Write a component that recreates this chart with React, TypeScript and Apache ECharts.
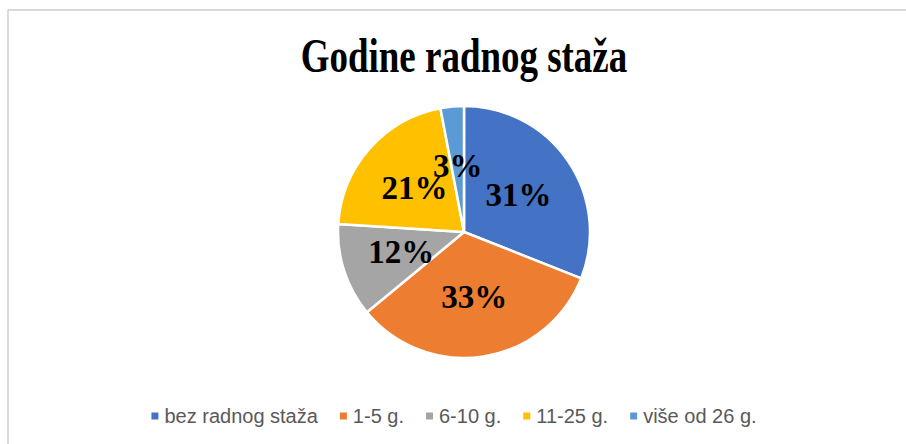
import React, { useEffect, useRef } from "react";
import * as echarts from "echarts";

const titleText = "Godine radnog staža";
const categories = ["bez radnog staža", "1-5 g.", "6-10 g.", "11-25 g.", "više od 26 g."];
const values = [31, 33, 12, 21, 3];
const colors = ["#4472C4", "#ED7D31", "#A5A5A5", "#FFC000", "#5B9BD5"];

export default function App() {
  const ref = useRef<HTMLDivElement>(null);
  useEffect(() => {
    if (!ref.current) return;
    const chart = echarts.init(ref.current, undefined, { renderer: "svg" });
    chart.setOption({
      animation: false,
      backgroundColor: "#ffffff",
      color: colors,
      graphic: [
        { type: "line", shape: { x1: 8, y1: 10, x2: 906, y2: 10 }, style: { stroke: "#d9d9d9", lineWidth: 2 } },
        { type: "line", shape: { x1: 8, y1: 10, x2: 8, y2: 444 }, style: { stroke: "#d9d9d9", lineWidth: 2 } },
        {
          type: "text",
          x: 464,
          y: 56,
          scaleX: 0.77,
          style: {
            text: titleText,
            fontFamily: "Liberation Serif",
            fontWeight: "bold",
            fontSize: 48,
            fill: "#000000",
            align: "center",
            verticalAlign: "middle",
          },
        },
      ],
      legend: {
        bottom: 13,
        left: "center",
        icon: "rect",
        itemWidth: 9,
        itemHeight: 9,
        itemGap: 20,
        textStyle: { fontFamily: "Liberation Sans", fontSize: 20, color: "#595959" },
        data: categories,
      },
      series: [
        {
          type: "pie",
          center: [464, 232],
          radius: [0, 126],
          startAngle: 90,
          clockwise: true,
          avoidLabelOverlap: false,
          labelLayout: { hideOverlap: false },
          itemStyle: { borderColor: "#ffffff", borderWidth: 2.5 },
          label: {
            show: true,
            position: "inside",
            formatter: "{d}%",
            fontFamily: "Liberation Serif",
            fontWeight: "bold",
            fontSize: 33,
            color: "#000000",
          },
          labelLine: { show: false },
          emphasis: { disabled: true },
          data: categories.map((name, i) => ({ name, value: values[i] })),
        },
      ],
    });
    return () => chart.dispose();
  }, []);
  return (
    <div
      ref={ref}
      style={{ position: "absolute", left: 0, top: 0, width: 906, height: 444 }}
    />
  );
}
